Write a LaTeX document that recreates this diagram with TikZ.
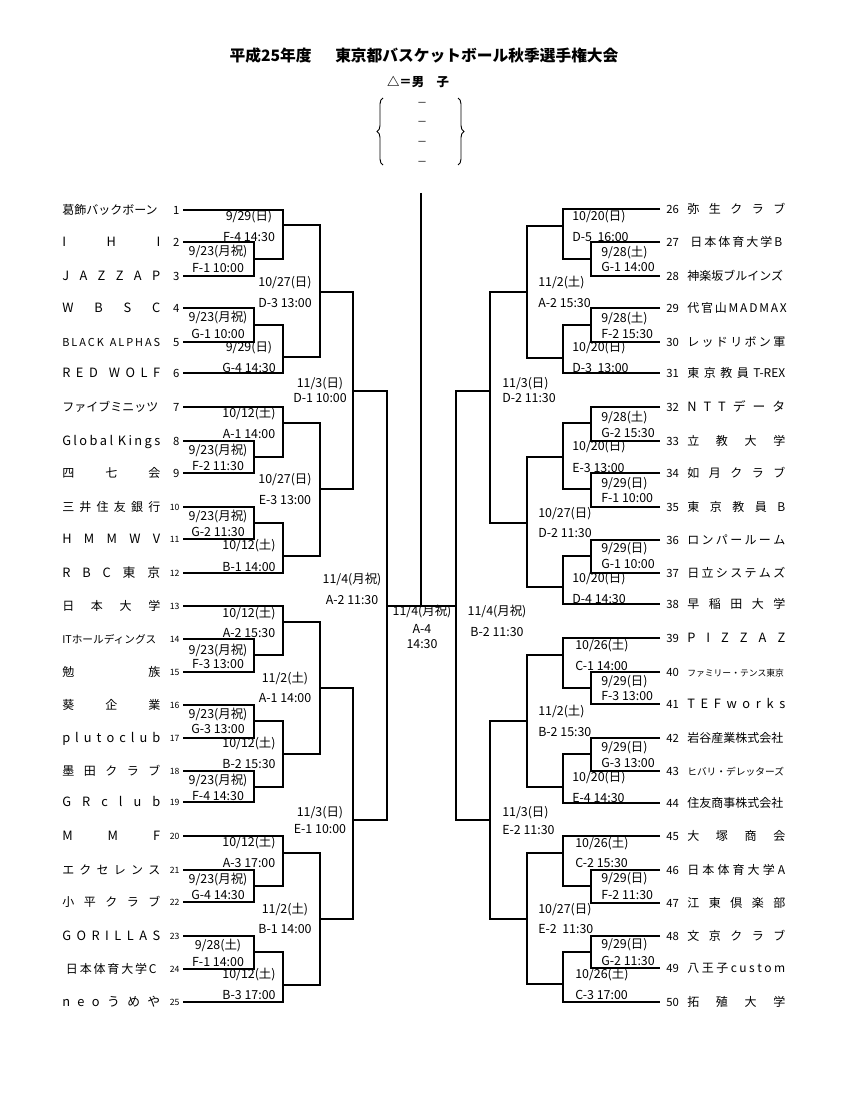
\documentclass[tikz,border=0pt]{standalone}
\usepackage{fontspec}
\setmainfont{Noto Sans CJK JP}
\usetikzlibrary{decorations.pathreplacing}
\tikzstyle{tname} = [anchor=west, inner sep=0pt, text height=7.9pt, text depth=1.1pt, font=\fontsize{9}{10}\selectfont]
\tikzstyle{lname} = [tname, font=\fontsize{9.6}{10}\selectfont]
\tikzstyle{lnum} = [anchor=east, inner xsep=2.5pt, inner ysep=0pt, text height=7.5pt, text depth=1pt, font=\fontsize{8.5}{9}\selectfont]
\tikzstyle{lnums} = [lnum, text height=5.7pt, text depth=.8pt, font=\fontsize{6.5}{7}\selectfont]
\tikzstyle{rnum} = [lnum, anchor=west, inner xsep=4.5pt]
\tikzstyle{info} = [inner sep=0pt, text height=8.1pt, text depth=1.1pt, font=\fontsize{9.3}{10}\selectfont]
\tikzstyle{rinfo} = [info, anchor=west]
\tikzstyle{wire} = [line width=1.1pt]
\tikzstyle{curly} = [decorate, decoration={brace, amplitude=4.5pt}, line width=0.7pt]
\newcommand{\nm}[2][73.5pt]{\makebox[73.5pt]{\makebox[#1][s]{#2}}}

\begin{document}
\begin{tikzpicture}[x=0.75pt, y=-0.75pt]
  \useasboundingbox (0,0) rectangle (848,1098);

  \node (title) at (424,56) {\fontsize{11.8}{13}\selectfont\bfseries 平成25年度\hspace{1.5em}東京都バスケットボール秋季選手権大会};
  \node (sex) at (418,82) {\fontsize{9.3}{10}\selectfont\bfseries △＝男　子};
  \node (k1) [info] at (422,102) {\fontsize{7.5}{8}\selectfont －};
  \node (k2) [info] at (422,121) {\fontsize{7.5}{8}\selectfont －};
  \node (k3) [info] at (422,141) {\fontsize{7.5}{8}\selectfont －};
  \node (k4) [info] at (422,161) {\fontsize{7.5}{8}\selectfont －};
  \draw [curly] (383,165) -- (383,98);
  \draw [curly] (458,98) -- (458,165);

  % left half
  \node (n1) [tname] at (62,210) {\nm{葛飾バックボーン}};  \node (t1) [lnum] at (183,210) {1};
  \node (n2) [lname] at (62,242) {\nm{I H I}};  \node (t2) [lnum] at (183,242) {2};
  \node (n3) [lname] at (62,276) {\nm{J A Z Z A P}};  \node (t3) [lnum] at (183,276) {3};
  \node (n4) [lname] at (62,308) {\nm{W B S C}};  \node (t4) [lnum] at (183,308) {4};
  \node (n5) [tname] at (62,342) {\nm{\fontsize{8.2}{9}\selectfont B L A C K\ \ \ A L P H A S}};  \node (t5) [lnum] at (183,342) {5};
  \node (n6) [lname] at (62,373) {\nm{R E D\ \ W O L F}};  \node (t6) [lnum] at (183,373) {6};
  \node (n7) [tname] at (62,407) {\nm{ファイブミニッツ}};  \node (t7) [lnum] at (183,407) {7};
  \node (n8) [lname] at (62,441) {\nm{G l o b a l\ \ K i n g s}};  \node (t8) [lnum] at (183,441) {8};
  \node (n9) [tname] at (62,473) {\nm{四 七 会}};  \node (t9) [lnum] at (183,473) {9};
  \node (n10) [tname] at (62,507) {\nm{三 井 住 友 銀 行}};  \node (t10) [lnums] at (183,507) {10};
  \node (n11) [lname] at (62,539) {\nm{H M M W V}};  \node (t11) [lnums] at (183,539) {11};
  \node (n12) [lname] at (62,573) {\nm{R B C 東 京}};  \node (t12) [lnums] at (183,573) {12};
  \node (n13) [tname] at (62,606) {\nm{日 本 大 学}};  \node (t13) [lnums] at (183,606) {13};
  \node (n14) [tname] at (62,639) {\nm{\fontsize{8}{9}\selectfont ITホールディングス}};  \node (t14) [lnums] at (183,639) {14};
  \node (n15) [tname] at (62,672) {\nm{勉 族}};  \node (t15) [lnums] at (183,672) {15};
  \node (n16) [tname] at (62,705) {\nm{葵 企 業}};  \node (t16) [lnums] at (183,705) {16};
  \node (n17) [lname] at (62,738) {\nm{p l u t o c l u b}};  \node (t17) [lnums] at (183,738) {17};
  \node (n18) [tname] at (62,771) {\nm{墨 田 ク ラ ブ}};  \node (t18) [lnums] at (183,771) {18};
  \node (n19) [lname] at (62,802) {\nm{G R c l u b}};  \node (t19) [lnums] at (183,802) {19};
  \node (n20) [lname] at (62,836) {\nm{M M F}};  \node (t20) [lnums] at (183,836) {20};
  \node (n21) [tname] at (62,870) {\nm{エ ク セ レ ン ス}};  \node (t21) [lnums] at (183,870) {21};
  \node (n22) [tname] at (62,902) {\nm{小 平 ク ラ ブ}};  \node (t22) [lnums] at (183,902) {22};
  \node (n23) [lname] at (62,936) {\nm{G O R I L L A S}};  \node (t23) [lnums] at (183,936) {23};
  \node (n24) [tname] at (62,969) {\nm[68pt]{日 本 体 育 大 学 C}};  \node (t24) [lnums] at (183,969) {24};
  \node (n25) [lname] at (62,1002) {\nm{n e o う め や}};  \node (t25) [lnums] at (183,1002) {25};

  % right half
  \node (n26) [tname] at (687,209) {\nm{弥 生 ク ラ ブ}};  \node (t26) [rnum] at (660,209) {26};
  \node (n27) [tname] at (687,242) {\nm[69pt]{日 本 体 育 大 学 B}};  \node (t27) [rnum] at (660,242) {27};
  \node (n28) [tname] at (687,276) {\nm{神楽坂ブルインズ}};  \node (t28) [rnum] at (660,276) {28};
  \node (n29) [tname] at (687,308) {\nm{代 官 山 M A D M A X}};  \node (t29) [rnum] at (660,308) {29};
  \node (n30) [tname] at (687,342) {\nm{レ ッ ド リ ボ ン 軍}};  \node (t30) [rnum] at (660,342) {30};
  \node (n31) [tname] at (687,373) {\nm{東 京 教 員 T-REX}};  \node (t31) [rnum] at (660,373) {31};
  \node (n32) [lname] at (687,407) {\nm{N T T デ ー タ}};  \node (t32) [rnum] at (660,407) {32};
  \node (n33) [tname] at (687,441) {\nm{立 教 大 学}};  \node (t33) [rnum] at (660,441) {33};
  \node (n34) [tname] at (687,473) {\nm{如 月 ク ラ ブ}};  \node (t34) [rnum] at (660,473) {34};
  \node (n35) [tname] at (687,507) {\nm{東 京 教 員 B}};  \node (t35) [rnum] at (660,507) {35};
  \node (n36) [tname] at (687,540) {\nm{ロ ン パ ー ル ー ム}};  \node (t36) [rnum] at (660,540) {36};
  \node (n37) [tname] at (687,573) {\nm{日 立 シ ス テ ム ズ}};  \node (t37) [rnum] at (660,573) {37};
  \node (n38) [tname] at (687,604) {\nm{早 稲 田 大 学}};  \node (t38) [rnum] at (660,604) {38};
  \node (n39) [lname] at (687,638) {\nm{P I Z Z A Z}};  \node (t39) [rnum] at (660,638) {39};
  \node (n40) [tname] at (687,672) {\nm{\fontsize{6.6}{8}\selectfont ファミリー・テンス東京}};  \node (t40) [rnum] at (660,672) {40};
  \node (n41) [lname] at (687,704) {\nm{T E F w o r k s}};  \node (t41) [rnum] at (660,704) {41};
  \node (n42) [tname] at (687,738) {\nm{岩谷産業株式会社}};  \node (t42) [rnum] at (660,738) {42};
  \node (n43) [tname] at (687,771) {\nm{\fontsize{7.3}{8}\selectfont ヒバリ・デレッターズ}};  \node (t43) [rnum] at (660,771) {43};
  \node (n44) [tname] at (687,803) {\nm{住友商事株式会社}};  \node (t44) [rnum] at (660,803) {44};
  \node (n45) [tname] at (687,836) {\nm{大 塚 商 会}};  \node (t45) [rnum] at (660,836) {45};
  \node (n46) [tname] at (687,870) {\nm{日 本 体 育 大 学 A}};  \node (t46) [rnum] at (660,870) {46};
  \node (n47) [tname] at (687,903) {\nm{江 東 倶 楽 部}};  \node (t47) [rnum] at (660,903) {47};
  \node (n48) [tname] at (687,936) {\nm{文 京 ク ラ ブ}};  \node (t48) [rnum] at (660,936) {48};
  \node (n49) [tname] at (687,968) {\nm{八 王 子 c u s t o m}};  \node (t49) [rnum] at (660,968) {49};
  \node (n50) [tname] at (687,1002) {\nm{拓 殖 大 学}};  \node (t50) [rnum] at (660,1002) {50};

  % match points
  \coordinate (a1) at (254,259);  \coordinate (a2) at (283,225);
  \coordinate (a3) at (254,325);  \coordinate (a4) at (283,357);
  \coordinate (a5) at (320,292);
  \coordinate (b1) at (254,457);  \coordinate (b2) at (283,423);
  \coordinate (b3) at (254,523);  \coordinate (b4) at (283,556);
  \coordinate (b5) at (320,489);  \coordinate (ab) at (353,391);
  \coordinate (c1) at (254,655);  \coordinate (c2) at (283,622);
  \coordinate (c3) at (254,721);  \coordinate (c4) at (254,787);
  \coordinate (c5) at (283,754);  \coordinate (c6) at (320,688);
  \coordinate (d1) at (254,886);  \coordinate (d2) at (283,853);
  \coordinate (d3) at (254,952);  \coordinate (d4) at (283,985);
  \coordinate (d5) at (320,919);  \coordinate (cd) at (353,820);
  \coordinate (L) at (387,606);   \coordinate (R) at (456,606);
  \coordinate (top) at (421,193); \coordinate (fin) at (421,606);
  \coordinate (e1) at (591,259);  \coordinate (e2) at (563,226);
  \coordinate (e3) at (591,325);  \coordinate (e4) at (563,358);
  \coordinate (e5) at (527,292);
  \coordinate (f1) at (591,423);  \coordinate (f2) at (591,489);
  \coordinate (f3) at (563,457);  \coordinate (f4) at (591,556);
  \coordinate (f5) at (563,587);  \coordinate (f6) at (527,523);
  \coordinate (ef) at (490,391);
  \coordinate (g1) at (591,688);  \coordinate (g2) at (563,655);
  \coordinate (g3) at (591,754);  \coordinate (g4) at (563,787);
  \coordinate (g5) at (527,721);
  \coordinate (h1) at (591,886);  \coordinate (h2) at (563,853);
  \coordinate (h3) at (591,952);  \coordinate (h4) at (563,984);
  \coordinate (h5) at (527,919);  \coordinate (gh) at (490,820);

  \draw [wire] (t2.east) -| (a1) |- (t3.east);
  \draw [wire] (t1.east) -| (a2) |- (a1);
  \draw [wire] (t4.east) -| (a3) |- (t5.east);
  \draw [wire] (a3) -| (a4) |- (t6.east);
  \draw [wire] (a2) -| (a5) |- (a4);
  \draw [wire] (t8.east) -| (b1) |- (t9.east);
  \draw [wire] (t7.east) -| (b2) |- (b1);
  \draw [wire] (t10.east) -| (b3) |- (t11.east);
  \draw [wire] (b3) -| (b4) |- (t12.east);
  \draw [wire] (b2) -| (b5) |- (b4);
  \draw [wire] (a5) -| (ab) |- (b5);
  \draw [wire] (t14.east) -| (c1) |- (t15.east);
  \draw [wire] (t13.east) -| (c2) |- (c1);
  \draw [wire] (t16.east) -| (c3) |- (t17.east);
  \draw [wire] (t18.east) -| (c4) |- (t19.east);
  \draw [wire] (c3) -| (c5) |- (c4);
  \draw [wire] (c2) -| (c6) |- (c5);
  \draw [wire] (t21.east) -| (d1) |- (t22.east);
  \draw [wire] (t20.east) -| (d2) |- (d1);
  \draw [wire] (t23.east) -| (d3) |- (t24.east);
  \draw [wire] (d3) -| (d4) |- (t25.east);
  \draw [wire] (d2) -| (d5) |- (d4);
  \draw [wire] (c6) -| (cd) |- (d5);
  \draw [wire] (ab) -| (L) |- (cd);
  \draw [wire] (L) -- (R);
  \draw [wire] (top) -- (fin);
  \draw [wire] (t27.west) -| (e1) |- (t28.west);
  \draw [wire] (t26.west) -| (e2) |- (e1);
  \draw [wire] (t29.west) -| (e3) |- (t30.west);
  \draw [wire] (e3) -| (e4) |- (t31.west);
  \draw [wire] (e2) -| (e5) |- (e4);
  \draw [wire] (t32.west) -| (f1) |- (t33.west);
  \draw [wire] (t34.west) -| (f2) |- (t35.west);
  \draw [wire] (f1) -| (f3) |- (f2);
  \draw [wire] (t36.west) -| (f4) |- (t37.west);
  \draw [wire] (f4) -| (f5) |- (t38.west);
  \draw [wire] (f3) -| (f6) |- (f5);
  \draw [wire] (e5) -| (ef) |- (f6);
  \draw [wire] (t40.west) -| (g1) |- (t41.west);
  \draw [wire] (t39.west) -| (g2) |- (g1);
  \draw [wire] (t42.west) -| (g3) |- (t43.west);
  \draw [wire] (g3) -| (g4) |- (t44.west);
  \draw [wire] (g2) -| (g5) |- (g4);
  \draw [wire] (t46.west) -| (h1) |- (t47.west);
  \draw [wire] (t45.west) -| (h2) |- (h1);
  \draw [wire] (t48.west) -| (h3) |- (t49.west);
  \draw [wire] (h3) -| (h4) |- (t50.west);
  \draw [wire] (h2) -| (h5) |- (h4);
  \draw [wire] (g5) -| (gh) |- (h5);
  \draw [wire] (ef) -| (R) |- (gh);

  % dates and games, left
  \node (da1) [info] at (218,251) {9/23(月祝)};  \node (ga1) [info] at (218,268) {F-1 10:00};
  \node (da2) [info] at (249,216) {9/29(日)};  \node (ga2) [info] at (249,237) {F-4 14:30};
  \node (da3) [info] at (218,317) {9/23(月祝)};  \node (ga3) [info] at (218,334) {G-1 10:00};
  \node (da4) [info] at (249,347) {9/29(日)};  \node (ga4) [info] at (249,368) {G-4 14:30};
  \node (da5) [info] at (285,282) {10/27(日)};  \node (ga5) [info] at (285,303) {D-3 13:00};
  \node (db1) [info] at (218,450) {9/23(月祝)};  \node (gb1) [info] at (218,466) {F-2 11:30};
  \node (db2) [info] at (249,413) {10/12(土)};  \node (gb2) [info] at (249,434) {A-1 14:00};
  \node (db3) [info] at (218,516) {9/23(月祝)};  \node (gb3) [info] at (218,532) {G-2 11:30};
  \node (db4) [info] at (249,545) {10/12(土)};  \node (gb4) [info] at (249,567) {B-1 14:00};
  \node (db5) [info] at (285,479) {10/27(日)};  \node (gb5) [info] at (285,500) {E-3 13:00};
  \node (dab) [info] at (320,383) {11/3(日)};  \node (gab) [info] at (320,398) {D-1 10:00};
  \node (dc1) [info] at (218,650) {9/23(月祝)};  \node (gc1) [info] at (218,664) {F-3 13:00};
  \node (dc2) [info] at (249,613) {10/12(土)};  \node (gc2) [info] at (249,633) {A-2 15:30};
  \node (dc3) [info] at (218,714) {9/23(月祝)};  \node (gc3) [info] at (218,729) {G-3 13:00};
  \node (dc4) [info] at (218,780) {9/23(月祝)};  \node (gc4) [info] at (218,796) {F-4 14:30};
  \node (dc5) [info] at (249,743) {10/12(土)};  \node (gc5) [info] at (249,764) {B-2 15:30};
  \node (dc6) [info] at (285,678) {11/2(土)};  \node (gc6) [info] at (285,698) {A-1 14:00};
  \node (dd1) [info] at (218,879) {9/23(月祝)};  \node (gd1) [info] at (218,895) {G-4 14:30};
  \node (dd2) [info] at (249,842) {10/12(土)};  \node (gd2) [info] at (249,863) {A-3 17:00};
  \node (dd3) [info] at (218,945) {9/28(土)};  \node (gd3) [info] at (218,962) {F-1 14:00};
  \node (dd4) [info] at (249,974) {10/12(土)};  \node (gd4) [info] at (249,995) {B-3 17:00};
  \node (dd5) [info] at (285,909) {11/2(土)};  \node (gd5) [info] at (285,929) {B-1 14:00};
  \node (dcd) [info] at (320,812) {11/3(日)};  \node (gcd) [info] at (320,829) {E-1 10:00};
  \node (dL) [info] at (352,579) {11/4(月祝)};  \node (gL) [info] at (352,600) {A-2 11:30};
  \node (dfin) [info] at (422,611) {11/4(月祝)};  \node (gfin) [info] at (422,629) {A-4};
  \node (tfin) [info] at (422,644) {14:30};
  \node (dR) [info] at (497,611) {11/4(月祝)};  \node (gR) [info] at (497,632) {B-2 11:30};

  % dates and games, right
  \node (de1) [rinfo] at (601,252) {9/28(土)};  \node (ge1) [rinfo] at (601,267) {G-1 14:00};
  \node (de2) [rinfo] at (572,216) {10/20(日)};  \node (ge2) [rinfo] at (572,237) {D-5\ \ 16:00};
  \node (de3) [rinfo] at (601,318) {9/28(土)};  \node (ge3) [rinfo] at (601,334) {F-2 15:30};
  \node (de4) [rinfo] at (572,347) {10/20(日)};  \node (ge4) [rinfo] at (572,368) {D-3\ \ 13:00};
  \node (de5) [rinfo] at (538,282) {11/2(土)};  \node (ge5) [rinfo] at (538,303) {A-2 15:30};
  \node (df1) [rinfo] at (601,417) {9/28(土)};  \node (gf1) [rinfo] at (601,433) {G-2 15:30};
  \node (df2) [rinfo] at (601,483) {9/29(日)};  \node (gf2) [rinfo] at (601,498) {F-1 10:00};
  \node (df3) [rinfo] at (572,446) {10/20(日)};  \node (gf3) [rinfo] at (572,468) {E-3 13:00};
  \node (df4) [rinfo] at (601,548) {9/29(日)};  \node (gf4) [rinfo] at (601,564) {G-1 10:00};
  \node (df5) [rinfo] at (572,578) {10/20(日)};  \node (gf5) [rinfo] at (572,599) {D-4 14:30};
  \node (df6) [rinfo] at (538,513) {10/27(日)};  \node (gf6) [rinfo] at (538,533) {D-2 11:30};
  \node (def) [rinfo] at (502,383) {11/3(日)};  \node (gef) [rinfo] at (502,398) {D-2 11:30};
  \node (dg1) [rinfo] at (601,681) {9/29(日)};  \node (gg1) [rinfo] at (601,696) {F-3 13:00};
  \node (dg2) [rinfo] at (575,645) {10/26(土)};  \node (gg2) [rinfo] at (575,666) {C-1 14:00};
  \node (dg3) [rinfo] at (601,747) {9/29(日)};  \node (gg3) [rinfo] at (601,763) {G-3 13:00};
  \node (dg4) [rinfo] at (572,777) {10/20(日)};  \node (gg4) [rinfo] at (572,798) {E-4 14:30};
  \node (dg5) [rinfo] at (538,711) {11/2(土)};  \node (gg5) [rinfo] at (538,732) {B-2 15:30};
  \node (dh1) [rinfo] at (601,878) {9/29(日)};  \node (gh1) [rinfo] at (601,895) {F-2 11:30};
  \node (dh2) [rinfo] at (575,843) {10/26(土)};  \node (gh2) [rinfo] at (575,863) {C-2 15:30};
  \node (dh3) [rinfo] at (601,944) {9/29(日)};  \node (gh3) [rinfo] at (601,961) {G-2 11:30};
  \node (dh4) [rinfo] at (575,974) {10/26(土)};  \node (gh4) [rinfo] at (575,995) {C-3 17:00};
  \node (dh5) [rinfo] at (538,909) {10/27(日)};  \node (gh5) [rinfo] at (538,929) {E-2\ \ 11:30};
  \node (dgh) [rinfo] at (502,812) {11/3(日)};  \node (ggh) [rinfo] at (502,830) {E-2 11:30};
\end{tikzpicture}
\end{document}
